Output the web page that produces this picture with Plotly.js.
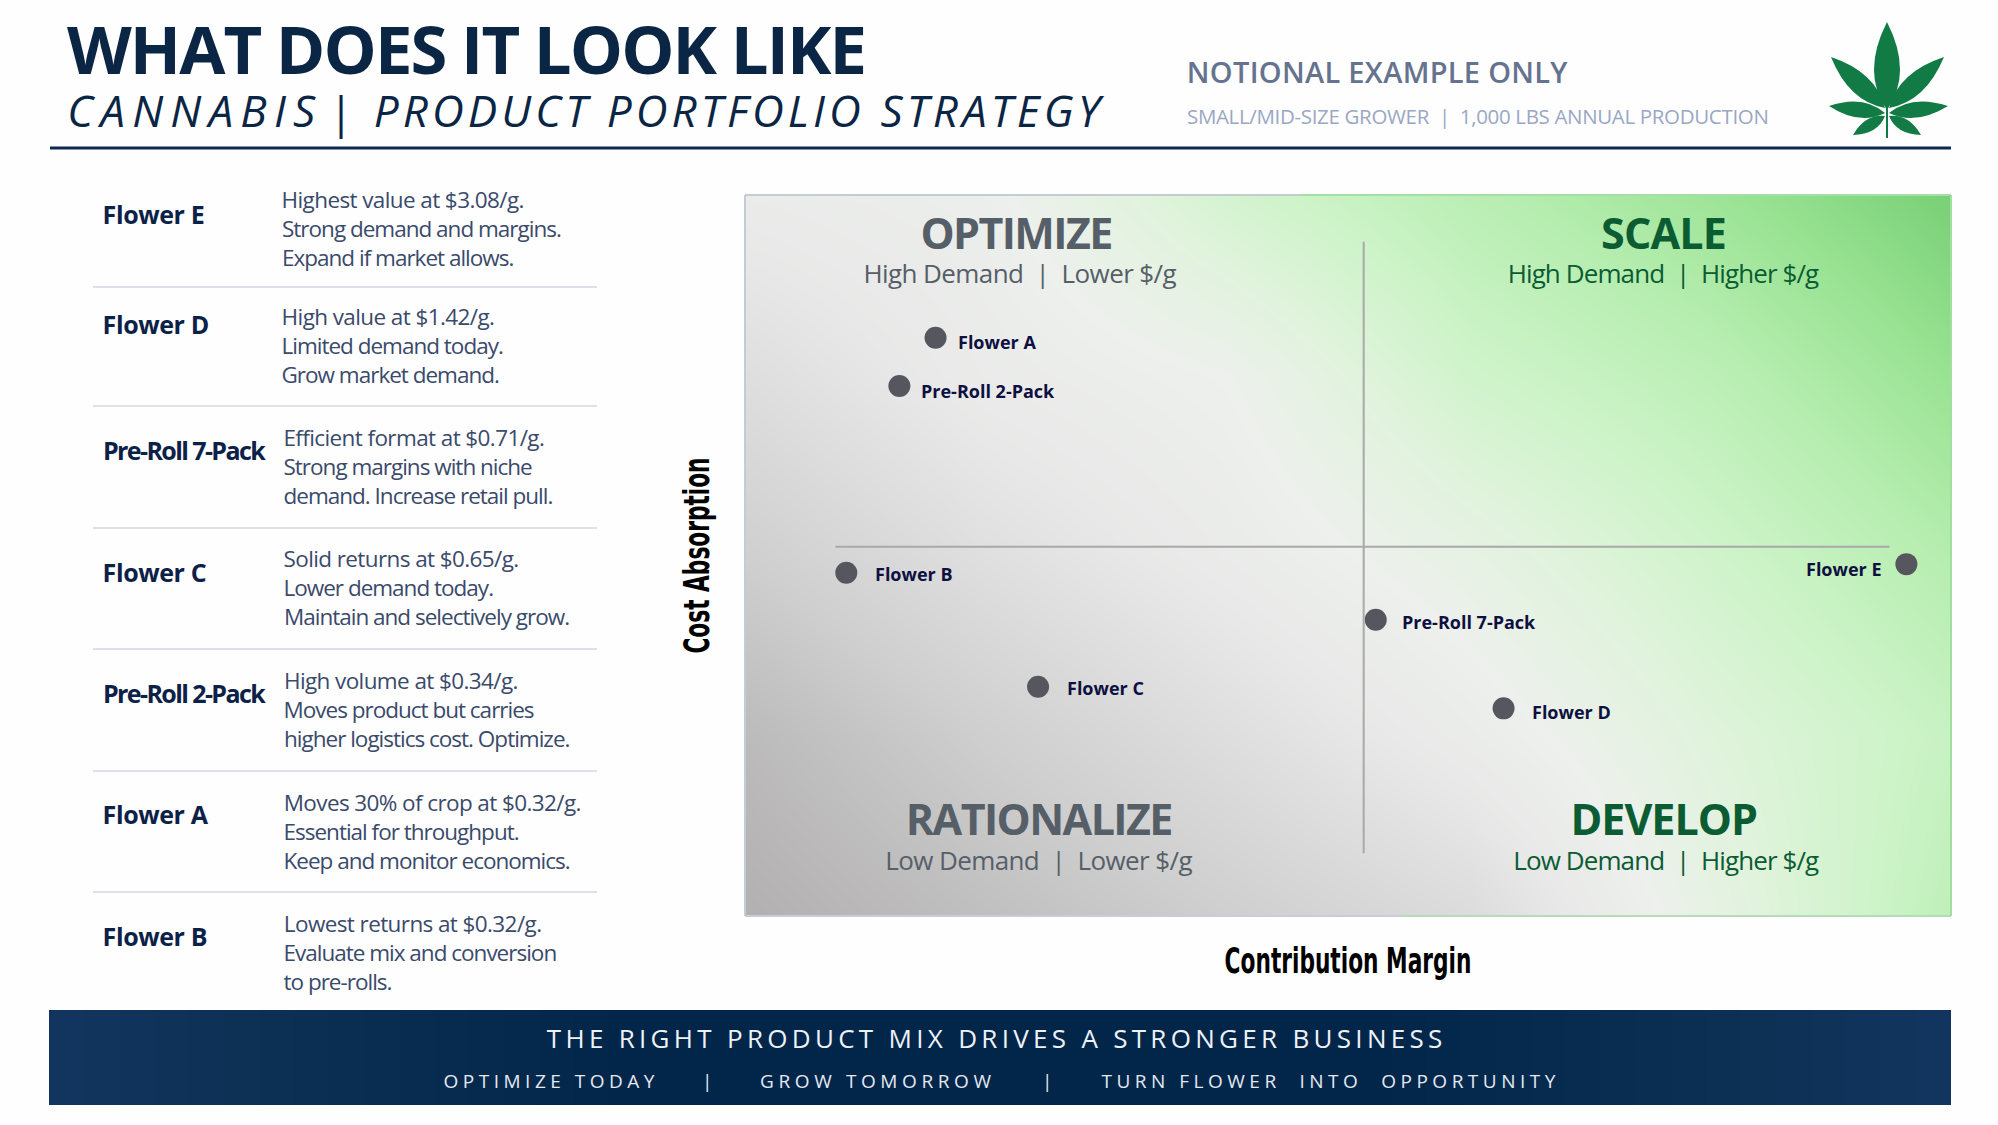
<!DOCTYPE html>
<html>
<head>
<meta charset="utf-8">
<script src="https://cdn.plot.ly/plotly-3.0.1.min.js"></script>
<style>
html, body { margin: 0; padding: 0; background: #fefefe; }
</style>
</head>
<body>
<div id="chart" style="width:1998px;height:1125px;"></div>
<script>
// quadrant points (both axes have no scale, so 0-100)
var productNames = ['Flower A', 'Pre-Roll 2-Pack', 'Flower B', 'Flower C', 'Pre-Roll 7-Pack', 'Flower D', 'Flower E'];
var contributionMargin = [15.8, 12.8, 8.4, 24.3, 52.3, 62.9, 96.3];
var costAbsorption = [80.2, 73.5, 47.6, 31.8, 41.1, 28.8, 48.8];

var crossX = 51.3;
var crossY = 51.2;

// left table
var tableNames = ['Flower E', 'Flower D', 'Pre-Roll 7-Pack', 'Flower C', 'Pre-Roll 2-Pack', 'Flower A', 'Flower B'];
var tableNotes = [
    ['Highest value at $3.08/g.', 'Strong demand and margins.', 'Expand if market allows.'],
    ['High value at $1.42/g.', 'Limited demand today.', 'Grow market demand.'],
    ['Efficient format at $0.71/g.', 'Strong margins with niche', 'demand. Increase retail pull.'],
    ['Solid returns at $0.65/g.', 'Lower demand today.', 'Maintain and selectively grow.'],
    ['High volume at $0.34/g.', 'Moves product but carries', 'higher logistics cost. Optimize.'],
    ['Moves 30% of crop at $0.32/g.', 'Essential for throughput.', 'Keep and monitor economics.'],
    ['Lowest returns at $0.32/g.', 'Evaluate mix and conversion', 'to pre-rolls.']
];

// background shade of the quadrant panel, sampled on a coarse grid (bottom row first)
var shadeX = [0, 20, 40, 60, 80, 100];
var shadeY = [0, 25, 50, 75, 100];
var shadeZ = [
    [0, 10, 20, 30, 55, 76],
    [7, 20, 32, 45, 60, 72],
    [20, 33, 44, 55, 68, 80],
    [32, 44, 50, 68, 77, 90],
    [44, 48, 66, 78, 88, 100]
];
var shadeColors = [
    [0, '#b2b0b0'], [0.2, '#cfcfcf'], [0.4, '#e8e8e8'], [0.5, '#edf0ec'], [0.6, '#e0f3dc'],
    [0.7, '#ccf3c7'], [0.8, '#b5edaf'], [0.9, '#98e292'], [1, '#78d075']
];

// panel position in page pixels
var panelL = 745, panelR = 1951, panelT = 195, panelB = 916;
function xp(px) { return (px - panelL) / (panelR - panelL); }
function yp(py) { return (panelB - py) / (panelB - panelT); }

var FONT = '"Open Sans", "Noto Sans", sans-serif';
var NAVY = '#0b2545';

var annotations = [];
var shapes = [];
var spacingCss = '';

// text at page pixels, spacing is css letter-spacing because plotly has no option for it.
// plotly measures the box without the spacing, so left anchored text needs an xshift
function addText(text, x, y, size, color, opts, spacing)
{
    opts = opts || {};
    var anchor = opts.anchor || 'left';
    annotations.push({
        xref: 'paper', yref: 'paper', x: xp(x), y: yp(y), text: text, showarrow: false,
        xanchor: anchor, yanchor: 'middle', borderpad: 0,
        xshift: (anchor === 'left' && spacing) ? spacing * text.length / 2 : 0,
        font: { family: opts.family || FONT, size: size, color: color, weight: opts.weight || 400, style: opts.style || 'normal' }
    });
    if(spacing)
    {
        spacingCss += '.annotation[data-index="' + (annotations.length - 1) + '"] text{letter-spacing:' + spacing + 'px}\n';
    }
}

function addLine(x0, y0, x1, y1, color, width)
{
    shapes.push({ type: 'line', xref: 'paper', yref: 'paper', x0: xp(x0), y0: yp(y0), x1: xp(x1), y1: yp(y1), line: { color: color, width: width } });
}

// header
addText('WHAT DOES IT LOOK LIKE', 66, 48, 67, NAVY, { weight: 700 }, -1.9);
addText('CANNABIS', 66, 110, 44, NAVY, { style: 'italic' }, 7.2);
addText('|', 340, 111, 44, NAVY, { anchor: 'center', style: 'italic' });
addText('PRODUCT PORTFOLIO STRATEGY', 373, 110, 44, NAVY, { style: 'italic' }, 4.1);
addText('NOTIONAL EXAMPLE ONLY', 1186, 71, 29, '#65738f', { weight: 600 }, 0.3);
addText('SMALL/MID-SIZE GROWER  |  1,000 LBS ANNUAL PRODUCTION', 1186, 116, 20.5, '#9aa7c4', {}, -0.34);
addLine(50, 148, 1951, 148, '#0f2a50', 3);

// leaf blades: base x, base y, tip x, tip y, half width
var blades = [
    [1887, 110, 1887, 22, 13],
    [1885, 108, 1831, 57, 10],
    [1889, 108, 1944, 57, 10],
    [1885, 113, 1829, 106, 8],
    [1889, 113, 1948, 106, 8],
    [1885, 116, 1853, 135, 6],
    [1889, 116, 1921, 135, 6]
];
blades.forEach(function(b)
{
    var dx = b[2] - b[0], dy = b[3] - b[1];
    var len = Math.sqrt(dx * dx + dy * dy);
    var nx = -dy / len * b[4] * 2, ny = dx / len * b[4] * 2;
    var mx = b[0] + dx * 0.42, my = b[1] + dy * 0.42;
    var path = 'M' + xp(b[0]) + ',' + yp(b[1]) +
        ' Q' + xp(mx + nx) + ',' + yp(my + ny) + ' ' + xp(b[2]) + ',' + yp(b[3]) +
        ' Q' + xp(mx - nx) + ',' + yp(my - ny) + ' ' + xp(b[0]) + ',' + yp(b[1]) + ' Z';
    shapes.push({ type: 'path', xref: 'paper', yref: 'paper', path: path, fillcolor: '#117a45', line: { width: 0 } });
});
addLine(1887, 108, 1887, 138, '#117a45', 2);

// left table
var nameY = [214, 324, 450, 572, 693, 814, 936];
var noteY = [199, 316, 437, 558, 680, 802, 923];
var noteX = [280.5, 280.5, 282.5, 282.5, 282.5, 282.5, 282.5];
var ruleY = [287, 406, 528, 649, 771, 892];
for(var i = 0; i < tableNames.length; i++)
{
    addText(tableNames[i], 102, nameY[i], 25, '#0c2147', { weight: 700 }, tableNames[i].length > 8 ? -1.6 : -0.4);
    for(var j = 0; j < 3; j++)
    {
        // lines with a price run wider in the original
        addText(tableNotes[i][j], noteX[i], noteY[i] + j * 29, 22.5, '#3a4a6b', {}, tableNotes[i][j].indexOf('$') >= 0 ? -0.6 : -1);
    }
}
ruleY.forEach(function(y) { addLine(93, y, 597, y, '#dde2e8', 2); });

// quadrant headings
var GREY_TEXT = '#565f68', GREEN_TEXT = '#0b5c33';
addText('OPTIMIZE', 1016, 232, 43, GREY_TEXT, { weight: 700, anchor: 'center' }, -1.6);
addText('High Demand  |  Lower $/g', 1020, 273, 26, GREY_TEXT, { anchor: 'center' }, -0.6);
addText('SCALE', 1663, 232, 43, GREEN_TEXT, { weight: 700, anchor: 'center' }, -0.8);
addText('High Demand  |  Higher $/g', 1663, 273, 26, GREEN_TEXT, { anchor: 'center' }, -0.9);
addText('RATIONALIZE', 1039, 818, 43, GREY_TEXT, { weight: 700, anchor: 'center' }, -1.6);
addText('Low Demand  |  Lower $/g', 1038, 860, 26, GREY_TEXT, { anchor: 'center' }, -0.6);
addText('DEVELOP', 1663, 818, 43, GREEN_TEXT, { weight: 700, anchor: 'center' }, -1);
addText('Low Demand  |  Higher $/g', 1666, 860, 26, GREEN_TEXT, { anchor: 'center' }, -0.9);

// point labels sit next to the dots, offsets differ per point in the original
var labelShiftX = [21, 21, 28, 28, 25, 27, -23];
var labelShiftY = [4, 5, 1, 1, 2, 4, 5];
productNames.forEach(function(name, k)
{
    annotations.push({
        xref: 'x', yref: 'y', x: contributionMargin[k], y: costAbsorption[k], text: name, showarrow: false,
        xanchor: labelShiftX[k] < 0 ? 'right' : 'left', yanchor: 'middle', borderpad: 0,
        xshift: labelShiftX[k], yshift: -labelShiftY[k],
        font: { family: FONT, size: 18, color: '#0d1040', weight: 700 }
    });
});

// crosshair
shapes.push({ type: 'line', xref: 'x', yref: 'y', x0: crossX, x1: crossX, y0: 8.7, y1: 93.5, line: { color: '#a9a9a9', width: 2 } });
shapes.push({ type: 'line', xref: 'x', yref: 'y', x0: 7.5, x1: 94.9, y0: crossY, y1: crossY, line: { color: '#a9a9a9', width: 2 } });

// panel border, grey on the left half and green on the right
addLine(745, 195, 745, 916, '#c3cbd3', 2);
addLine(745, 195, 1300, 195, '#c3cbd3', 2);
addLine(745, 916, 1400, 916, '#c9ced6', 2);
addLine(1300, 195, 1951, 195, '#a5dfa5', 2);
addLine(1400, 916, 1951, 916, '#b5dcb8', 2);
addLine(1951, 195, 1951, 916, '#a0dfa0', 2);

// footer banner, darker towards the middle: shapes have no gradient so stack a few see-through ones
shapes.push({ type: 'rect', xref: 'paper', yref: 'paper', x0: xp(49), x1: xp(1951), y0: yp(1010), y1: yp(1105), fillcolor: '#12355f', line: { width: 0 }, layer: 'below' });
for(var k = 1; k <= 16; k++)
{
    shapes.push({ type: 'rect', xref: 'paper', yref: 'paper', x0: xp(49 + k * 35), x1: xp(1951 - k * 35), y0: yp(1010), y1: yp(1105), fillcolor: '#002244', opacity: 0.035, line: { width: 0 }, layer: 'below' });
}
addText('THE RIGHT PRODUCT MIX DRIVES A STRONGER BUSINESS', 996, 1038, 26, '#eef2f7', { anchor: 'center' }, 4.3);
addText('OPTIMIZE TODAY', 442, 1081, 19, '#e3e9f1', {}, 4.5);
addText('|', 707, 1081, 19, '#e3e9f1', { anchor: 'center' });
addText('GROW TOMORROW', 759, 1081, 19, '#e3e9f1', {}, 4.6);
addText('|', 1047, 1081, 19, '#e3e9f1', { anchor: 'center' });
addText('TURN FLOWER  INTO  OPPORTUNITY', 1100, 1081, 19, '#e3e9f1', {}, 4.5);

var style = document.createElement('style');
style.textContent = spacingCss;
document.head.appendChild(style);

var plotData = [
    {
        type: 'heatmap',
        x: shadeX,
        y: shadeY,
        z: shadeZ,
        zmin: 0,
        zmax: 100,
        zsmooth: 'best',
        colorscale: shadeColors,
        showscale: false,
        hoverinfo: 'skip'
    },
    {
        type: 'scatter',
        mode: 'markers',
        x: contributionMargin,
        y: costAbsorption,
        text: productNames,
        hoverinfo: 'text',
        marker: { size: 22, color: '#55565e' }
    }
];

var axisTitleFont = { family: '"DejaVu Sans Condensed", "DejaVu Sans", sans-serif', size: 36, color: '#000000', weight: 700 };

var plotLayout = {
    width: 1998,
    height: 1125,
    margin: { l: panelL, r: 1998 - panelR, t: panelT, b: 1125 - panelB, pad: 0 },
    paper_bgcolor: '#fefefe',
    plot_bgcolor: '#e8e8e8',
    showlegend: false,
    xaxis: {
        range: [0, 100], showgrid: false, zeroline: false, showticklabels: false, ticks: '',
        title: { text: 'Contribution Margin', font: axisTitleFont, standoff: 31 }
    },
    yaxis: {
        range: [0, 100], showgrid: false, zeroline: false, showticklabels: false, ticks: '',
        title: { text: 'Cost Absorption', font: axisTitleFont, standoff: 23 }
    },
    annotations: annotations,
    shapes: shapes
};

// no narrow bold font is installed, so squeeze the two axis titles sideways
function narrowTitle(gd, selector, scaleX)
{
    var el = gd.querySelector(selector);
    if(!el) return;
    var x = el.getAttribute('x'), y = el.getAttribute('y');
    var old = el.getAttribute('transform') || '';
    el.setAttribute('transform', old + ' translate(' + x + ',' + y + ') scale(' + scaleX + ',1) translate(' + (-x) + ',' + (-y) + ')');
}

Plotly.newPlot('chart', plotData, plotLayout, { displayModeBar: false, responsive: false }).then(function(gd)
{
    narrowTitle(gd, '.xtitle', 0.67);
    narrowTitle(gd, '.ytitle', 0.67);
});
</script>
</body>
</html>
